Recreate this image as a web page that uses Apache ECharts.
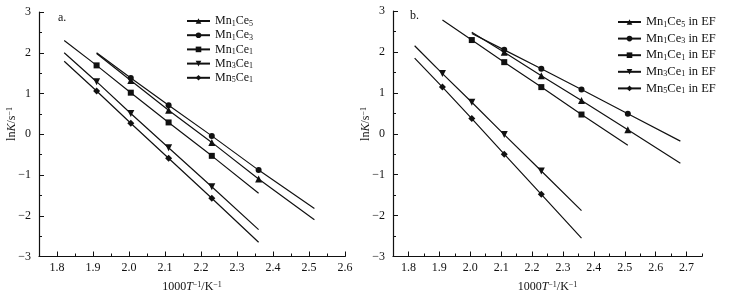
<!DOCTYPE html>
<html>
<head>
<meta charset="utf-8">
<script src="https://cdn.jsdelivr.net/npm/echarts@6/dist/echarts.min.js"></script>
<style>
  html, body { margin: 0; padding: 0; background: #fff; }
  #chart { width: 739px; height: 298px; }
</style>
</head>
<body>
<div id="chart"></div>
<script>
// 1000/T 的测点位置
const invT = [1.91, 2.005, 2.11, 2.23, 2.36, 2.51];

// a. 各催化剂 lnK（null 表示该温度无数据）
const aMn1Ce5 = [null, 1.32, 0.59, -0.20, -1.10, null];
const aMn1Ce3 = [null, 1.38, 0.71, -0.04, -0.88, null];
const aMn1Ce1 = [1.69, 1.02, 0.29, -0.53, null, null];
const aMn3Ce1 = [1.29, 0.51, -0.33, -1.29, null, null];
const aMn5Ce1 = [1.06, 0.27, -0.59, -1.57, null, null];
// 拟合直线两端 [x0, y0, x1, y1]
const aMn1Ce5Fit = [1.91, 1.98, 2.515, -2.10];
const aMn1Ce3Fit = [1.91, 2.00, 2.515, -1.82];
const aMn1Ce1Fit = [1.82, 2.30, 2.36, -1.45];
const aMn3Ce1Fit = [1.82, 2.00, 2.36, -2.34];
const aMn5Ce1Fit = [1.82, 1.79, 2.36, -2.65];

// b. 电场(EF)下
const bMn1Ce5 = [null, null, 1.99, 1.42, 0.81, 0.10];
const bMn1Ce3 = [null, null, 2.05, 1.59, 1.08, 0.49];
const bMn1Ce1 = [null, 2.29, 1.75, 1.14, 0.47, null];
const bMn3Ce1 = [1.47, 0.77, -0.02, -0.91, null, null];
const bMn5Ce1 = [1.14, 0.37, -0.50, -1.48, null, null];
const bMn1Ce5Fit = [2.005, 2.48, 2.68, -0.72];
const bMn1Ce3Fit = [2.005, 2.45, 2.68, -0.18];
const bMn1Ce1Fit = [1.91, 2.78, 2.51, -0.28];
const bMn3Ce1Fit = [1.82, 2.15, 2.36, -1.88];
const bMn5Ce1Fit = [1.82, 1.85, 2.36, -2.55];

// 刻度标签
const aTicks = [1.8, 1.9, 2.0, 2.1, 2.2, 2.3, 2.4, 2.5, 2.6];
const bTicks = [1.8, 1.9, 2.0, 2.1, 2.2, 2.3, 2.4, 2.5, 2.6, 2.7];

const FONT = "'Liberation Serif', 'DejaVu Serif', serif";
const INK = '#111';

const chart = echarts.init(document.getElementById('chart'));

// 拟合线 + 测点合并成一条折线，端点不画标记
function buildData(pts, fit) {
  const d = [{ value: [fit[0], fit[1]], symbol: 'none' }];
  pts.forEach((y, i) => {
    if (y !== null) d.push([invT[i], y]);
  });
  d.push({ value: [fit[2], fit[3]], symbol: 'none' });
  return d;
}

function makeSeries(name, pts, fit, symbol, size, panel) {
  return {
    type: 'line',
    name: name,
    xAxisIndex: panel === 'a' ? 0 : 2,
    yAxisIndex: panel === 'a' ? 0 : 1,
    data: buildData(pts, fit),
    symbol: symbol,
    symbolSize: size,
    showSymbol: true,
    animation: false,
    silent: true,
    lineStyle: { color: INK, width: 1.2 },
    itemStyle: { color: INK, borderWidth: 0 },
    emphasis: { disabled: true }
  };
}

const subRich = {
  s: { fontSize: 8, fontFamily: FONT, color: INK, verticalAlign: 'bottom', padding: [5, 0, 0, 0] }
};

// Mn1Ce5 -> Mn{s|1}Ce{s|5}
function legendFmt(name) {
  return name.replace(/(Mn|Ce)(\d)/g, '$1{s|$2}');
}

function xAxisMain(gridIndex, max, ticks) {
  return {
    type: 'value', gridIndex: gridIndex, min: 1.75, max: max,
    axisLine: { onZero: false, lineStyle: { color: INK, width: 1.2 } },
    axisTick: { inside: true, length: 5, customValues: ticks, lineStyle: { color: INK } },
    axisLabel: {
      customValues: ticks, margin: 5, color: INK, fontSize: 12, fontFamily: FONT,
      formatter: v => v.toFixed(1)
    },
    splitLine: { show: false },
    name: '1000{i|T}{sup|−1}/K{sup|−1}',
    nameLocation: 'middle',
    nameGap: 24,
    nameTextStyle: {
      color: INK, fontSize: 12, fontFamily: FONT, verticalAlign: 'top',
      rich: {
        i: { fontStyle: 'italic', fontSize: 12, fontFamily: FONT, color: INK },
        sup: { fontSize: 8, fontFamily: FONT, color: INK, verticalAlign: 'top', padding: [0, 0, 5, 0] }
      }
    }
  };
}

// 次刻度（0.05 间隔）
function xAxisMinor(gridIndex, max) {
  return {
    type: 'value', gridIndex: gridIndex, min: 1.75, max: max, interval: 0.05,
    position: 'bottom',
    axisLine: { show: false, onZero: false },
    axisTick: { inside: true, length: 3, lineStyle: { color: INK } },
    axisLabel: { show: false },
    splitLine: { show: false }
  };
}

function yAxis(gridIndex) {
  return {
    type: 'value', gridIndex: gridIndex, min: -3, max: 3, interval: 1,
    axisLine: { show: true, onZero: false, lineStyle: { color: INK, width: 1.2 } },
    axisTick: { show: true, inside: true, length: 5, lineStyle: { color: INK } },
    minorTick: { show: true, splitNumber: 2, length: 3, lineStyle: { color: INK } },
    axisLabel: {
      margin: 8, color: INK, fontSize: 12, fontFamily: FONT,
      formatter: v => String(v).replace('-', '−')
    },
    splitLine: { show: false }
  };
}

function yName(x) {
  return {
    type: 'text', x: x, y: 124, rotation: Math.PI / 2,
    style: {
      text: 'ln{i|K}/s{sup|−1}', fontSize: 12, fontFamily: FONT, fill: INK,
      align: 'center', verticalAlign: 'middle',
      rich: {
        i: { fontStyle: 'italic', fontSize: 12, fontFamily: FONT },
        sup: { fontSize: 8, fontFamily: FONT, verticalAlign: 'top', padding: [0, 0, 5, 0] }
      }
    }
  };
}

const option = {
  backgroundColor: '#fff',
  animation: false,
  grid: [
    { left: 39, right: 394, top: 12, bottom: 39.5 },
    { left: 393, right: 37, top: 11, bottom: 39.5 }
  ],
  xAxis: [
    xAxisMain(0, 2.6, aTicks),
    xAxisMinor(0, 2.6),
    xAxisMain(1, 2.75, bTicks),
    xAxisMinor(1, 2.75)
  ],
  yAxis: [yAxis(0), yAxis(1)],
  legend: [
    {
      data: ['Mn1Ce5', 'Mn1Ce3', 'Mn1Ce1', 'Mn3Ce1', 'Mn5Ce1'],
      orient: 'vertical', left: 186, top: 15, padding: 0,
      itemWidth: 23, itemHeight: 7, itemGap: 1.7,
      formatter: legendFmt,
      textStyle: { color: INK, fontSize: 12, fontFamily: FONT, rich: subRich }
    },
    {
      data: ['Mn1Ce5 in EF', 'Mn1Ce3 in EF', 'Mn1Ce1 in EF', 'Mn3Ce1 in EF', 'Mn5Ce1 in EF'],
      orient: 'vertical', left: 617, top: 15.5, padding: 0,
      itemWidth: 23, itemHeight: 7, itemGap: 3.6,
      formatter: legendFmt,
      textStyle: { color: INK, fontSize: 12.5, fontFamily: FONT, rich: subRich }
    }
  ],
  graphic: [
    yName(12),
    yName(366),
    { type: 'text', x: 58, y: 12, style: { text: 'a.', fontSize: 12, fontFamily: FONT, fill: INK } },
    { type: 'text', x: 410, y: 10, style: { text: 'b.', fontSize: 12, fontFamily: FONT, fill: INK } }
  ],
  series: [
    makeSeries('Mn1Ce5', aMn1Ce5, aMn1Ce5Fit, 'triangle', 7, 'a'),
    makeSeries('Mn1Ce3', aMn1Ce3, aMn1Ce3Fit, 'circle', 6, 'a'),
    makeSeries('Mn1Ce1', aMn1Ce1, aMn1Ce1Fit, 'rect', 6, 'a'),
    makeSeries('Mn3Ce1', aMn3Ce1, aMn3Ce1Fit, 'path://M0,0 L10,0 L5,9 Z', 7, 'a'),
    makeSeries('Mn5Ce1', aMn5Ce1, aMn5Ce1Fit, 'diamond', 7, 'a'),
    makeSeries('Mn1Ce5 in EF', bMn1Ce5, bMn1Ce5Fit, 'triangle', 7, 'b'),
    makeSeries('Mn1Ce3 in EF', bMn1Ce3, bMn1Ce3Fit, 'circle', 6, 'b'),
    makeSeries('Mn1Ce1 in EF', bMn1Ce1, bMn1Ce1Fit, 'rect', 6, 'b'),
    makeSeries('Mn3Ce1 in EF', bMn3Ce1, bMn3Ce1Fit, 'path://M0,0 L10,0 L5,9 Z', 7, 'b'),
    makeSeries('Mn5Ce1 in EF', bMn5Ce1, bMn5Ce1Fit, 'diamond', 7, 'b')
  ]
};

chart.setOption(option);
</script>
</body>
</html>
